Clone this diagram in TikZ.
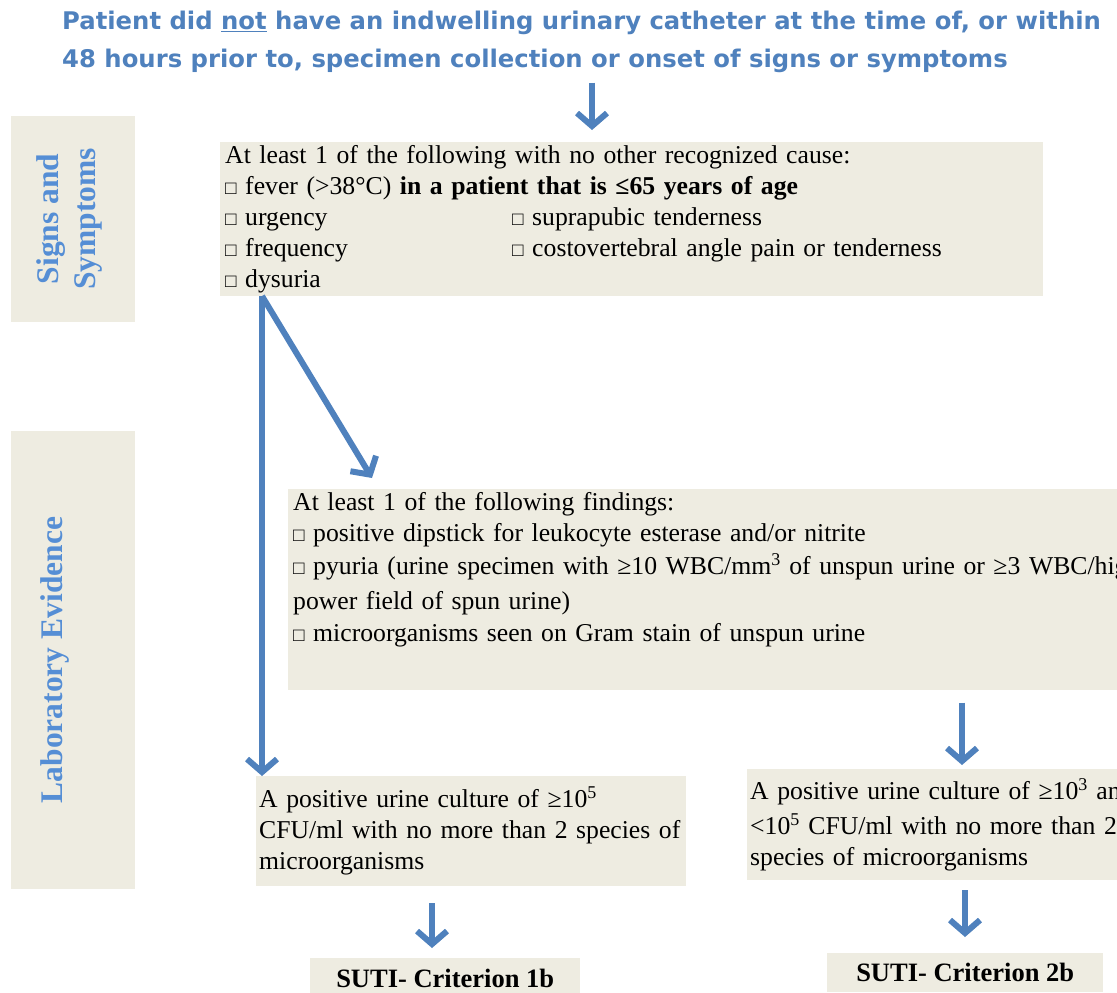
\documentclass[tikz,border=0pt]{standalone}
\usepackage{fontspec}
\setmainfont{Liberation Serif}
\newfontfamily\titlefont{DejaVu Sans}
\usetikzlibrary{arrows.meta,positioning}
\definecolor{boxtan}{RGB}{238,236,225}
\definecolor{arrowblue}{RGB}{79,129,189}
\definecolor{sideblue}{RGB}{85,142,213}
\tikzstyle{box}=[fill=boxtan,anchor=north west,align=left,inner xsep=5pt,inner ysep=3pt,font=\fontsize{25.7}{31}\selectfont]
\tikzstyle{critbox}=[fill=boxtan,anchor=north west,minimum width=270pt,minimum height=40pt,font=\fontsize{26.5}{31}\selectfont\bfseries]
\tikzstyle{sidebox}=[fill=boxtan,minimum width=124pt]
\tikzstyle{sidelabel}=[rotate=90,align=center,text=sideblue,font=\fontsize{31.5}{37}\selectfont\bfseries]
\tikzstyle{arr}=[draw=arrowblue,line width=6pt,-{Straight Barb[length=13pt,width=30pt]},
  preaction={draw=gray!70,transform canvas={shift={(1.5pt,-2pt)}}}]
\newcommand{\chk}{{\fontsize{19}{19}\selectfont\char"25A1}\ }

\begin{document}
\begin{tikzpicture}[x=1pt,y=-1pt]
  \useasboundingbox (0,0) rectangle (1117,993);
  \clip (0,0) rectangle (1117,993);
  % heading
  \node (title) [anchor=north west,inner sep=0pt,align=left,text=arrowblue,
    font=\titlefont\bfseries\fontsize{24.3}{38}\selectfont] at (62,10.5)
    {Patient did \underline{not} have an indwelling urinary catheter at the time of, or within\\
     48 hours prior to, specimen collection or onset of signs or symptoms};
  % side bands
  \node (signs) [sidebox,minimum height=206pt] at (73,219) {};
  \node [sidelabel] at ([xshift=-4pt]signs.center) {Signs and\\Symptoms};
  \node (lab) [sidebox,minimum height=458pt] at (73,660) {};
  \node [sidelabel] at ([xshift=-18pt]lab.center) {Laboratory Evidence};
  % boxes
  \node (topbox) [box,text width=813pt,minimum height=153pt] at (220,142)
    {At least 1 of the following with no other recognized cause:\\
     \chk fever (>38°C) \textbf{in a patient that is ≤65 years of age}\\
     \makebox[287pt][l]{\chk urgency}\chk suprapubic tenderness\\
     \makebox[287pt][l]{\chk frequency}\chk costovertebral angle pain or tenderness\\
     \chk dysuria};
  \node (findings) [box,text width=880pt] at (288,489)
    {At least 1 of the following findings:\\
     \chk positive dipstick for leukocyte esterase and/or nitrite\\[2pt]
     \chk pyuria (urine specimen with ≥10 WBC/mm\textsuperscript{3} of unspun urine or ≥3 WBC/high\\[4pt]
     power field of spun urine)\\[1pt]
     \chk microorganisms seen on Gram stain of unspun urine\rule[-46pt]{0pt}{46pt}};
  \node (cultA) [box,inner xsep=3pt,inner ysep=5pt,text width=424pt,minimum height=110pt] at (256,776)
    {A positive urine culture of ≥10\textsuperscript{5}\\
     CFU/ml with no more than 2 species of\\
     microorganisms};
  \node (cultB) [box,inner xsep=3pt,inner ysep=5pt,text width=424pt,minimum height=111pt] at (747,769)
    {A positive urine culture of ≥10\textsuperscript{3} and\\[4pt]
     <10\textsuperscript{5} CFU/ml with no more than 2\\
     species of microorganisms};
  \node (crit1) [critbox] at (310,958) {SUTI- Criterion 1b};
  \node (crit2) [critbox,minimum width=276pt,minimum height=39pt] at (827,953) {SUTI- Criterion 2b};
  % arrows
  \coordinate (tx) at (592,0);
  \coordinate (lx) at (262,0);
  \coordinate (rx) at (962,0);
  \coordinate (ax) at (432,0);
  \coordinate (bx) at (965,0);
  \draw[arr,shorten <=10pt,shorten >=12pt] (title.south -| tx) -- (topbox.north -| tx);
  \draw[arr] (topbox.south -| lx) -- (cultA.north -| lx);
  \draw[arr] (topbox.south -| lx) -- ([xshift=84pt,yshift=11pt]findings.north west);
  \draw[arr,shorten <=12pt,shorten >=4pt] (findings.south -| rx) -- (cultB.north -| rx);
  \draw[arr,shorten <=17pt,shorten >=10pt] (cultA.south -| ax) -- (crit1.north -| ax);
  \draw[arr,shorten <=10pt,shorten >=16pt] (cultB.south -| bx) -- (crit2.north -| bx);
\end{tikzpicture}
\end{document}
